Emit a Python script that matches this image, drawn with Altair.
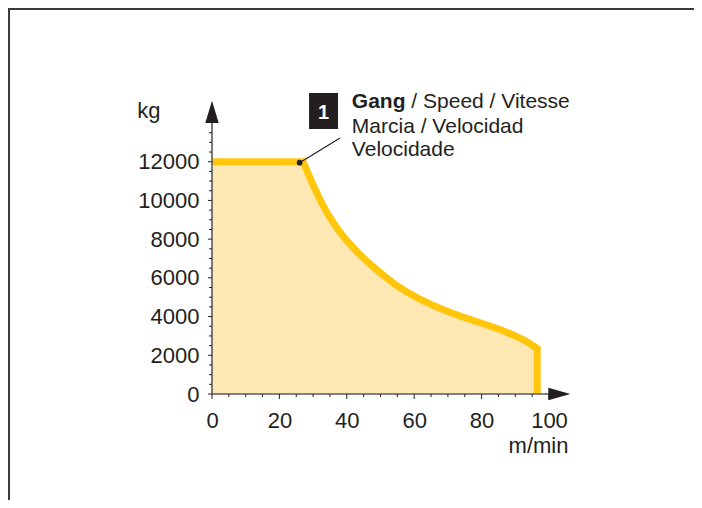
import altair as alt
import pandas as pd

# ---------------- data ----------------
speed = [0, 27, 28, 30, 32, 34, 36, 38, 40, 43, 46, 50, 54, 58, 62, 66, 70, 74, 78, 82, 86, 90, 93, 96.5, 96.5]
load = [12000, 12000, 11600, 10800, 10050, 9400, 8850, 8350, 7920, 7350, 6850, 6250, 5700, 5250, 4870, 4540, 4260, 4000, 3770, 3540, 3290, 3000, 2750, 2350, 0]

x_label_values = [0, 20, 40, 60, 80, 100]
y_label_values = [0, 2000, 4000, 6000, 8000, 10000, 12000]
x_minor_ticks = [5, 10, 15, 25, 30, 35, 45, 50, 55, 65, 70, 75, 85, 90, 95]
y_minor_ticks = [500, 1000, 1500, 2500, 3000, 3500, 4500, 5000, 5500, 6500, 7000, 7500,
                 8500, 9000, 9500, 10500, 11000, 11500, 12500, 13000, 13500]

x_title = "m/min"
y_title = "kg"
badge = "1"
line1_bold = "Gang"
line1_rest = "/ Speed / Vitesse"
other_lines = ["Marcia / Velocidad", "Velocidade"]

# annotation anchor positions (data units)
text_x = 41.5
text_y = [14760, 13480, 12320]
box_x = [28.8, 37.4]
box_y = [13690, 15550]
badge_pos = (33.1, 14207)
dot_pos = (26.0, 11950)
leader_end = (38.0, 13225)

FONT = "Liberation Sans"
INK = "#231f20"
AXIS = "#5a5a5a"
FILL = "#fde8b3"
STROKE = "#ffc60b"

xs = alt.Scale(domain=[0, 100], nice=False, zero=False)
ys = alt.Scale(domain=[0, 14000], nice=False, zero=False)

x_axis = alt.Axis(values=x_label_values, format="d", domain=False, ticks=False, grid=False,
                  labelFontSize=22, labelFont=FONT, labelColor=INK, labelPadding=16,
                  labelFlush=False, labelOverlap=False,
                  title=x_title, titleFont=FONT, titleFontSize=22, titleFontWeight="normal",
                  titleColor=INK, titleAnchor="end", titleAlign="right",
                  titleBaseline="alphabetic", titleX=356, titleY=58)
y_axis = alt.Axis(values=y_label_values, format="d", domain=False, ticks=False, grid=False,
                  labelFontSize=22, labelFont=FONT, labelColor=INK, labelPadding=13,
                  labelOverlap=False,
                  title=y_title, titleFont=FONT, titleFontSize=22, titleFontWeight="normal",
                  titleColor=INK, titleAngle=0, titleAlign="right",
                  titleBaseline="alphabetic", titleX=-52, titleY=-6)


def X(f):
    return alt.X(f, scale=xs, axis=x_axis)


def Y(f):
    return alt.Y(f, scale=ys, axis=y_axis, stack=None)


curve = pd.DataFrame({"speed": speed, "load": load, "order": list(range(len(speed)))})

area = alt.Chart(curve).mark_area(color=FILL, opacity=1).encode(
    x=X("speed:Q"), y=Y("load:Q"))

line = alt.Chart(curve).mark_line(color=STROKE, strokeWidth=7, strokeJoin="miter",
                                  strokeCap="butt").encode(
    x=X("speed:Q"), y=Y("load:Q"), order="order:Q")

axis_df = pd.DataFrame({"speed": [0], "x1": [100], "load": [0], "y1": [14000]})
x_line = alt.Chart(axis_df).mark_rule(color=AXIS, strokeWidth=1.6).encode(
    x=X("speed:Q"), x2="x1:Q", y=Y("load:Q"))
y_line = alt.Chart(axis_df).mark_rule(color=AXIS, strokeWidth=1.6).encode(
    x=X("speed:Q"), y=Y("load:Q"), y2="y1:Q")

xmaj = alt.Chart(pd.DataFrame({"speed": x_label_values})).mark_rule(color=INK, strokeWidth=1).encode(
    x=X("speed:Q"), y=alt.value(271), y2=alt.value(276))
xmin = alt.Chart(pd.DataFrame({"speed": x_minor_ticks})).mark_rule(color=INK, strokeWidth=1).encode(
    x=X("speed:Q"), y=alt.value(271), y2=alt.value(274))
ymaj = alt.Chart(pd.DataFrame({"load": y_label_values})).mark_rule(color=INK, strokeWidth=1).encode(
    y=Y("load:Q"), x=alt.value(0), x2=alt.value(-4))
ymin = alt.Chart(pd.DataFrame({"load": y_minor_ticks})).mark_rule(color=INK, strokeWidth=1).encode(
    y=Y("load:Q"), x=alt.value(0), x2=alt.value(-3))

up_arrow = alt.Chart(pd.DataFrame({"speed": [0], "load": [14000]})).mark_point(
    shape="M0,-2L0.6,0L-0.6,0Z", size=500, filled=True, color=INK, opacity=1).encode(
    x=X("speed:Q"), y=Y("load:Q"))
right_arrow = alt.Chart(pd.DataFrame({"speed": [99.8], "load": [0]})).mark_point(
    shape="M2,0L0,0.57L0,-0.57Z", size=484, filled=True, color=INK, opacity=1).encode(
    x=X("speed:Q"), y=Y("load:Q"))

leader_df = pd.DataFrame({"speed": [dot_pos[0]], "load": [dot_pos[1]],
                          "x2": [leader_end[0]], "y2": [leader_end[1]]})
leader = alt.Chart(leader_df).mark_rule(color=INK, strokeWidth=1.1).encode(
    x=X("speed:Q"), y=Y("load:Q"), x2="x2:Q", y2="y2:Q")
dot = alt.Chart(leader_df).mark_circle(color=INK, size=32, opacity=1).encode(
    x=X("speed:Q"), y=Y("load:Q"))

box = alt.Chart(pd.DataFrame({"speed": [box_x[0]], "x2": [box_x[1]],
                              "load": [box_y[0]], "y2": [box_y[1]]})).mark_rect(color=INK).encode(
    x=X("speed:Q"), x2="x2:Q", y=Y("load:Q"), y2="y2:Q")
badge_txt = alt.Chart(pd.DataFrame({"speed": [badge_pos[0]], "load": [badge_pos[1]], "t": [badge]})).mark_text(
    font=FONT, fontSize=20, fontWeight="bold", color="white", align="center",
    baseline="alphabetic").encode(x=X("speed:Q"), y=Y("load:Q"), text="t:N")

bold_txt = alt.Chart(pd.DataFrame({"speed": [text_x], "load": [text_y[0]], "t": [line1_bold]})).mark_text(
    font=FONT, fontSize=21, fontWeight="bold", color=INK, align="left",
    baseline="alphabetic").encode(x=X("speed:Q"), y=Y("load:Q"), text="t:N")
rest_txt = alt.Chart(pd.DataFrame({"speed": [text_x], "load": [text_y[0]], "t": [line1_rest]})).mark_text(
    font=FONT, fontSize=21, color=INK, align="left", baseline="alphabetic", dx=59.5).encode(
    x=X("speed:Q"), y=Y("load:Q"), text="t:N")
more_txt = alt.Chart(pd.DataFrame({"speed": [text_x] * 2, "load": text_y[1:], "t": other_lines})).mark_text(
    font=FONT, fontSize=21, color=INK, align="left", baseline="alphabetic").encode(
    x=X("speed:Q"), y=Y("load:Q"), text="t:N")

one = pd.DataFrame({"k": [0]})
frame_left = alt.Chart(one).mark_rule(color="#3a3a3a", strokeWidth=2).encode(
    x=alt.value(-203), y=alt.value(-115), y2=alt.value(377))
frame_top = alt.Chart(one).mark_rule(color="#3a3a3a", strokeWidth=2).encode(
    x=alt.value(-204), x2=alt.value(482), y=alt.value(-114))

chart = alt.layer(
    area, line, x_line, y_line, xmaj, xmin, ymaj, ymin, up_arrow, right_arrow,
    leader, dot, box, badge_txt, bold_txt, rest_txt, more_txt, frame_left, frame_top,
).properties(
    width=337, height=271,
    padding={"left": 204, "top": 115, "right": 145, "bottom": 106},
    autosize=alt.AutoSizeParams(type="none"),
    background="white",
).configure(font=FONT).configure_view(stroke=None)

chart.save("out.html", embed_options={"renderer": "svg", "actions": False})
